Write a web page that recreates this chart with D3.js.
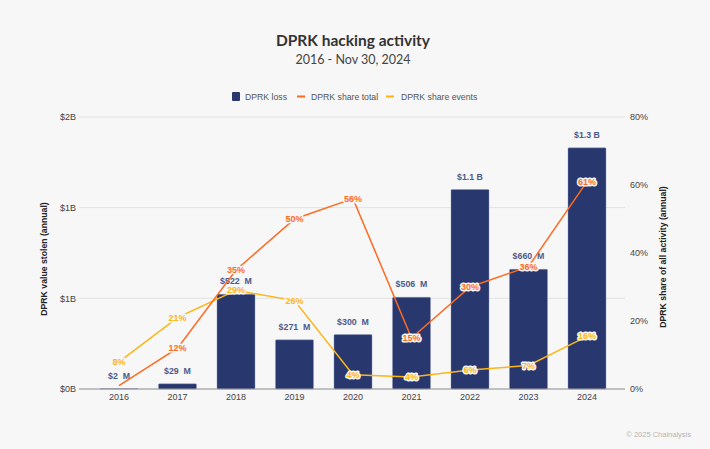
<!DOCTYPE html>
<html><head><meta charset="utf-8">
<script src="https://cdnjs.cloudflare.com/ajax/libs/d3/7.9.0/d3.min.js"></script>
<style>
html,body{margin:0;padding:0;background:#f7f7f7}
svg{display:block}
text{font-family:"Liberation Sans",Arial,sans-serif}
</style></head><body>
<svg id="c" width="710" height="449"></svg>
<script>
const years=["2016","2017","2018","2019","2020","2021","2022","2023","2024"];
const loss=[0.002,0.029,0.522,0.271,0.300,0.506,1.1,0.660,1.33];
const lossLabels=["$2  M","$29  M","$522  M","$271  M","$300  M","$506  M","$1.1 B","$660  M","$1.3 B"];
const shareTotal=[1,12,35,50,56,15,30,36,61];
const shareEvents=[8,21,29,26,4.2,3.5,5.6,6.9,15.5];
const leftTicks=[0,0.5,1,1.5];
const leftTickLabels=["$0B","$1B","$1B","$2B"];
const rightTicks=[0,20,40,60,80];
const colBar="#28386f",colTotal="#ff6a21",colEvents="#fdb515",colLabel="#4c5b8e";

const svg=d3.select("#c");
const x=d3.scaleBand().domain(years).range([89.75,616.25]).paddingInner(0.35).paddingOuter(0.175);
const yL=d3.scaleLinear().domain([0,1.5]).range([389,117]);
const yR=d3.scaleLinear().domain([0,80]).range([389,117]);
const cx=d=>x(d)+x.bandwidth()/2;

svg.append("text").attr("x",353).attr("y",46).attr("text-anchor","middle")
  .style("font-family","Lato").style("font-size","15.5px").style("font-weight",700).attr("fill","#333").text("DPRK hacking activity");
svg.append("text").attr("x",353).attr("y",64).attr("text-anchor","middle")
  .style("font-family","Lato").style("font-size","12.5px").attr("fill","#444").text("2016 - Nov 30, 2024");

// grid
const grid=svg.append("g");
grid.selectAll("line").data(leftTicks.slice(1)).join("line")
  .attr("x1",79).attr("x2",625).attr("y1",d=>yL(d)).attr("y2",d=>yL(d))
  .attr("stroke","#e2e2e2").attr("stroke-width",1);

// axes
const axL=svg.append("g").attr("transform","translate(79,0)")
  .call(d3.axisLeft(yL).tickValues(leftTicks).tickFormat((d,i)=>leftTickLabels[i]).tickSize(0).tickPadding(3));
const axR=svg.append("g").attr("transform","translate(625,0)")
  .call(d3.axisRight(yR).tickValues(rightTicks).tickFormat(d=>d+"%").tickSize(0).tickPadding(5));
const axB=svg.append("g").attr("transform","translate(0,389)")
  .call(d3.axisBottom(x).tickSize(0).tickPadding(5));
[axL,axR,axB].forEach(a=>{a.select(".domain").remove();
  a.selectAll("text").style("font-family","Liberation Sans").style("font-size","9px").attr("fill","#444");});

// bars
svg.append("g").selectAll("rect").data(years).join("rect")
  .attr("x",d=>x(d)).attr("width",x.bandwidth())
  .attr("y",(d,i)=>yL(loss[i])).attr("height",(d,i)=>389-yL(loss[i]))
  .attr("rx",1).attr("fill",colBar).attr("stroke","#8f9ac0").attr("stroke-width",0.4);
svg.append("line").attr("x1",79).attr("x2",625).attr("y1",389).attr("y2",389).attr("stroke","#8a8a8a").attr("stroke-width",1);

// bar labels
svg.append("g").selectAll("text").data(years).join("text")
  .attr("x",cx).attr("y",(d,i)=>yL(loss[i])-10)
  .attr("text-anchor","middle").style("white-space","pre")
  .style("font-size","8.8px").style("font-weight",700).attr("fill",colLabel)
  .text((d,i)=>lossLabels[i]);

// lines
const line=d3.line().x((d,i)=>cx(years[i])).y(d=>yR(d));
svg.append("path").datum(shareEvents).attr("d",line).attr("fill","none").attr("stroke",colEvents).attr("stroke-width",1.5);
svg.append("path").datum(shareTotal).attr("d",line).attr("fill","none").attr("stroke",colTotal).attr("stroke-width",1.5);

function pts(vals,col,skip){
  const g=svg.append("g");
  vals.forEach((v,i)=>{
    if(skip.includes(i))return;
    g.append("text").attr("x",cx(years[i])).attr("y",yR(v)+3)
     .attr("text-anchor","middle")
     .style("font-size","9px").style("font-weight",700).style("paint-order","stroke")
     .attr("stroke","#f7f7f7").attr("stroke-width",3).attr("stroke-linejoin","round")
     .attr("fill",col).text(Math.round(v)+"%");
  });
}
pts(shareEvents,colEvents,[]);
pts(shareTotal,colTotal,[0]);

// axis titles
svg.append("text").attr("transform","translate(47,259) rotate(-90)").attr("text-anchor","middle")
  .style("font-size","8.7px").style("font-weight",700).attr("fill","#222").text("DPRK value stolen (annual)");
svg.append("text").attr("transform","translate(666,257) rotate(-90)").attr("text-anchor","middle")
  .style("font-size","8.7px").style("font-weight",700).attr("fill","#222").text("DPRK share of all activity (annual)");

// legend
const leg=svg.append("g");
leg.append("rect").attr("x",232).attr("y",92).attr("width",8).attr("height",9).attr("rx",1).attr("fill",colBar);
leg.append("text").attr("x",245).attr("y",99.5).style("font-size","8.7px").attr("fill","#555").text("DPRK loss");
leg.append("rect").attr("x",297).attr("y",95.5).attr("width",8).attr("height",2).attr("fill",colTotal);
leg.append("text").attr("x",311).attr("y",99.5).style("font-size","8.7px").attr("fill","#555").text("DPRK share total");
leg.append("rect").attr("x",386).attr("y",95.5).attr("width",8).attr("height",2).attr("fill",colEvents);
leg.append("text").attr("x",401).attr("y",99.5).style("font-size","8.7px").attr("fill","#555").text("DPRK share events");

svg.append("text").attr("x",691).attr("y",437).attr("text-anchor","end")
  .style("font-size","7.5px").attr("fill","#b5b5b5").text("© 2025 Chainalysis");
</script>
</body></html>
